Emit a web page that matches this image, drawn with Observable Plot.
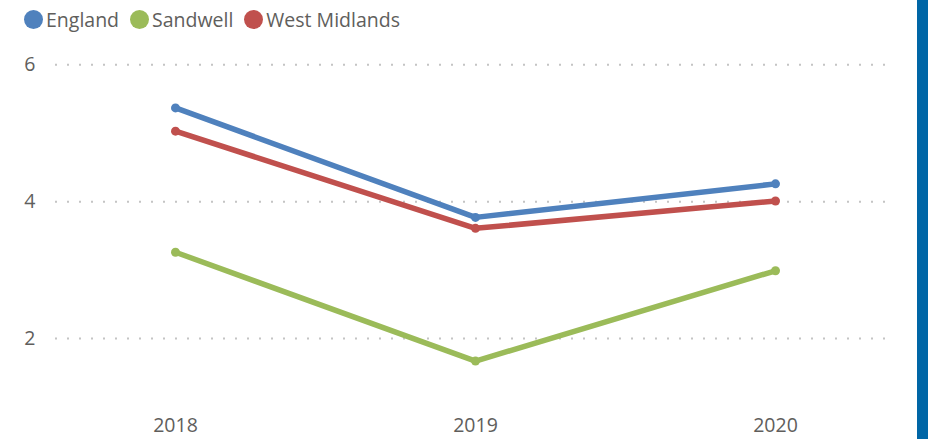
<!DOCTYPE html>
<html>
<head>
<meta charset="utf-8">
<script src="https://cdn.jsdelivr.net/npm/d3@7"></script>
<script src="https://cdn.jsdelivr.net/npm/@observablehq/plot@0.6"></script>
<style>
  body { margin: 0; background: #fff; font-family: "Open Sans", sans-serif; }
  #wrap { position: relative; width: 928px; height: 439px; overflow: hidden; }
  #legend { position: absolute; left: 24px; top: 0; height: 39px; display: flex; align-items: center; font-size: 19.5px; color: #605E5C; }
  .item { display: flex; align-items: center; margin-right: 11px; }
  .sw { width: 19px; height: 19px; border-radius: 50%; margin-right: 3px; }
  #chart { position: absolute; left: 0; top: 38px; }
  #bar { position: absolute; right: 0; top: 0; width: 11px; height: 439px; background: #0066A6; }
</style>
</head>
<body>
<div id="wrap">
  <div id="legend"></div>
  <div id="chart"></div>
  <div id="bar"></div>
</div>
<script>
const years = [2018, 2019, 2020];
const seriesNames = ["England", "Sandwell", "West Midlands"];
const seriesColors = ["#4F81BD", "#9BBB59", "#C0504D"];
const england = [5.37, 3.77, 4.26];
const sandwell = [3.26, 1.67, 2.99];
const westMidlands = [5.03, 3.61, 4.01];
const yTicks = [2, 4, 6];

const valuesBySeries = [england, sandwell, westMidlands];
const data = [];
seriesNames.forEach((name, i) => {
  years.forEach((y, j) => data.push({series: name, year: y, value: valuesBySeries[i][j]}));
});

// legend
const legend = document.getElementById("legend");
seriesNames.forEach((name, i) => {
  const item = document.createElement("div");
  item.className = "item";
  const sw = document.createElement("div");
  sw.className = "sw";
  sw.style.background = seriesColors[i];
  const label = document.createElement("span");
  label.textContent = name;
  item.appendChild(sw);
  item.appendChild(label);
  legend.appendChild(item);
});

const chart = Plot.plot({
  width: 928,
  height: 401,
  marginLeft: 55,
  marginRight: 42,
  marginTop: 0,
  marginBottom: 30,
  style: {fontFamily: "'Open Sans', sans-serif", fontSize: "19.5px", color: "#605E5C", background: "transparent"},
  x: {domain: [2018, 2020], range: [175, 775]},
  y: {domain: [2, 6], range: [300, 26.3]},
  color: {domain: seriesNames, range: seriesColors},
  marks: [
    Plot.gridY(yTicks, {stroke: "#c4c4c4", strokeOpacity: 1, strokeWidth: 2, strokeDasharray: "2,10"}),
    Plot.axisY(yTicks, {tickSize: 0, tickPadding: 20, tickFormat: d => String(d), fill: "#605E5C", label: null}),
    Plot.axisX(years, {tickSize: 0, tickPadding: 9, tickFormat: d => String(d), fill: "#605E5C", label: null}),
    Plot.line(data, {x: "year", y: "value", z: "series", stroke: "series", strokeWidth: 5.5, strokeLinejoin: "round", strokeLinecap: "round"}),
    Plot.dot(data, {x: "year", y: "value", fill: "series", r: 4.5})
  ]
});
document.getElementById("chart").appendChild(chart);
</script>
</body>
</html>
